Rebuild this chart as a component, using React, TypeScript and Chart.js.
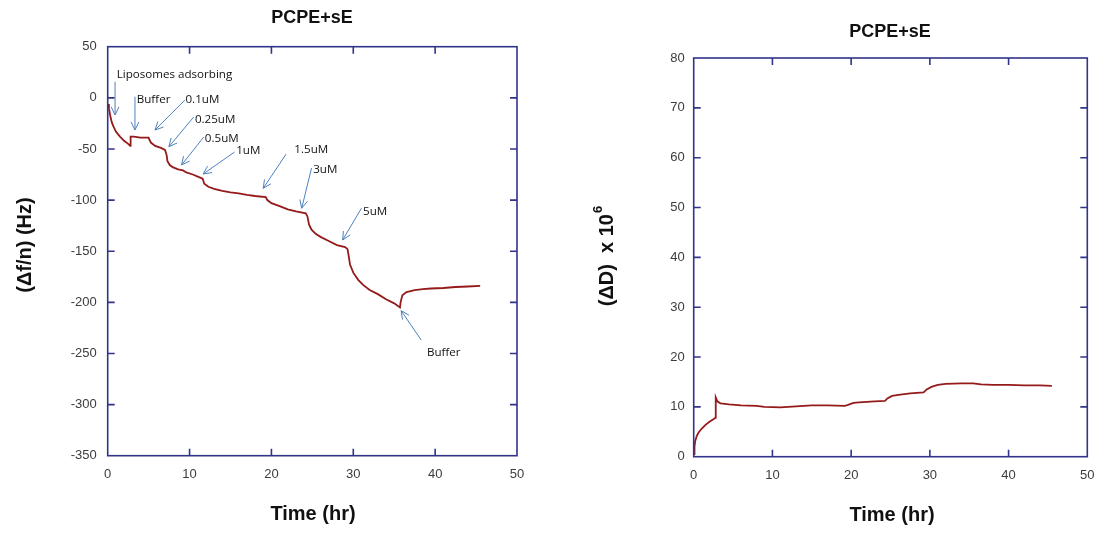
import React, { useEffect, useRef } from "react";
import { Chart, registerables } from "chart.js";

Chart.register(...registerables);

// Frequency shift (Δf/n, Hz) versus time (hr)
const freqTime = [
  0.05, 0.15, 0.3, 0.5, 0.7, 1.0, 1.5, 2.0, 2.5, 2.75, 2.8, 3.2, 4.0, 5.0, 5.1, 5.3, 5.8, 6.5, 7.0,
  7.2, 7.3, 7.6, 8.0, 8.6, 9.2, 9.6, 10.4, 11.0, 11.6, 11.8, 12.3, 13.0, 14.0, 15.0, 16.0, 17.0,
  18.0, 19.3, 19.5, 20.0, 21.0, 22.0, 23.0, 24.2, 24.4, 24.6, 24.9, 25.4, 26.0, 27.0, 28.0, 29.0,
  29.3, 29.45, 29.6, 30.0, 30.6, 31.2, 32.0, 33.0, 34.0, 35.0, 35.7, 35.8, 36.0, 36.5, 37.5, 38.5,
  39.5, 41.0, 42.5, 44.0, 45.5,
];
const freqShift = [
  -6, -10, -17, -24, -28, -33, -38, -42, -45, -47, -38, -38, -39, -39, -41, -44, -47, -49, -51,
  -56, -62, -66, -68, -70, -71, -73, -75, -77, -79, -84, -87, -89, -91, -92.5, -93.5, -95,
  -96, -97, -100, -103, -106, -109, -111, -113, -116, -124, -129, -133, -136, -140, -144, -146,
  -148, -155, -163, -171, -178, -183, -188, -192, -197, -201, -205, -199, -193, -190, -188, -187,
  -186.5, -186, -185, -184.5, -184,
];

// Dissipation shift (ΔD x 10^6) versus time (hr)
const dissTime = [
  0.05, 0.1, 0.2, 0.4, 0.6, 1.0, 1.5, 2.0, 2.5, 2.75, 2.8, 3.0, 3.4, 4.5, 6.0, 8.0, 9.0, 11.0,
  13.0, 15.0, 17.0, 19.2, 19.6, 20.3, 21.0, 23.0, 24.3, 24.6, 25.2, 26.0, 27.5, 29.2, 29.6, 30.2,
  31.0, 32.0, 34.0, 35.5, 36.5, 38.0, 40.0, 42.0, 44.0, 45.5,
];
const dissShift = [
  0.5, 2, 3.2, 4.2, 4.8, 5.6, 6.4, 7.0, 7.5, 7.8, 11.9, 11.1, 10.7, 10.5, 10.3, 10.2, 10.0, 9.9,
  10.1, 10.3, 10.3, 10.2, 10.4, 10.8, 10.9, 11.1, 11.2, 11.7, 12.2, 12.4, 12.7, 12.9, 13.5, 14.0,
  14.4, 14.6, 14.7, 14.7, 14.5, 14.4, 14.4, 14.3, 14.3, 14.2,
];

// Axis ranges and tick steps
const timeRange = [0, 50];
const timeStep = 10;
const freqRange = [-350, 50];
const freqStep = 50;
const dissRange = [0, 80];
const dissStep = 10;

// Injection annotations on the frequency trace (data coordinates)
const noteLabels = ["Liposomes adsorbing", "Buffer", "0.1uM", "0.25uM", "0.5uM", "1uM", "1.5uM", "3uM", "5uM", "Buffer"];
const noteTextX = [1.1, 3.55, 9.5, 10.65, 11.87, 15.7, 22.8, 25.1, 31.2, 39.0];
const noteTextY = [22.3, -2.2, -2.2, -21.7, -40.3, -51.7, -51.0, -70.6, -111.4, -249.3];
const noteTailX = [0.9, 3.33, 9.43, 10.5, 11.74, 15.5, 21.8, 24.9, 31.0, 38.3];
const noteTailY = [15.7, 1.1, -2.2, -18.8, -38.3, -53.0, -55.0, -68.7, -108.0, -236.9];
const noteHeadX = [0.9, 3.33, 5.77, 7.48, 9.02, 11.66, 19.0, 23.7, 28.7, 35.85];
const noteHeadY = [-16.8, -31.5, -31.5, -47.8, -65.7, -74.5, -88.5, -108.0, -139.0, -208.2];

const NAVY = "#30348a";
const TRACE = "#951a1a";
const ARROW = "#4f81bd";
const TICK_TEXT = "#3c3c3c";
const SANS = "'Liberation Sans', Arial, sans-serif";

type PanelSpec = {
  time: number[];
  values: number[];
  yRange: number[];
  yStep: number;
  area: { left: number; top: number; right: number; bottom: number };
  width: number;
  height: number;
  title: { x: number; y: number };
  xTitle: { x: number; y: number };
  yTitle: { x: number; y: number; text: string; sup?: string };
  yLabelPad: number;
  notes: boolean;
};

function drawArrow(ctx: CanvasRenderingContext2D, x1: number, y1: number, x2: number, y2: number) {
  const ang = Math.atan2(y2 - y1, x2 - x1);
  const len = 9;
  const spread = 0.45;
  ctx.beginPath();
  ctx.moveTo(x1, y1);
  ctx.lineTo(x2, y2);
  ctx.moveTo(x2 - len * Math.cos(ang - spread), y2 - len * Math.sin(ang - spread));
  ctx.lineTo(x2, y2);
  ctx.lineTo(x2 - len * Math.cos(ang + spread), y2 - len * Math.sin(ang + spread));
  ctx.stroke();
}

function makeDecor(spec: PanelSpec) {
  return {
    id: "panelDecor",
    afterDraw(chart: any) {
      const { ctx, chartArea: a, scales } = chart;
      ctx.save();

      // plot frame
      ctx.strokeStyle = NAVY;
      ctx.lineWidth = 1.6;
      ctx.strokeRect(a.left, a.top, a.right - a.left, a.bottom - a.top);

      // inward tick marks on all four sides
      const tl = 7;
      ctx.beginPath();
      scales.x.ticks.forEach((t: any) => {
        const px = scales.x.getPixelForValue(t.value);
        if (px <= a.left + 1 || px >= a.right - 1) return;
        ctx.moveTo(px, a.bottom);
        ctx.lineTo(px, a.bottom - tl);
        ctx.moveTo(px, a.top);
        ctx.lineTo(px, a.top + tl);
      });
      scales.y.ticks.forEach((t: any) => {
        const py = scales.y.getPixelForValue(t.value);
        if (py <= a.top + 1 || py >= a.bottom - 1) return;
        ctx.moveTo(a.left, py);
        ctx.lineTo(a.left + tl, py);
        ctx.moveTo(a.right, py);
        ctx.lineTo(a.right - tl, py);
      });
      ctx.stroke();

      // annotations
      if (spec.notes) {
        ctx.strokeStyle = ARROW;
        ctx.lineWidth = 1;
        for (let i = 0; i < noteLabels.length; i++) {
          drawArrow(
            ctx,
            scales.x.getPixelForValue(noteTailX[i]),
            scales.y.getPixelForValue(noteTailY[i]),
            scales.x.getPixelForValue(noteHeadX[i]),
            scales.y.getPixelForValue(noteHeadY[i])
          );
        }
        ctx.fillStyle = "#111111";
        ctx.font = "11.6px 'Open Sans', 'Noto Sans', sans-serif";
        ctx.textAlign = "left";
        ctx.textBaseline = "middle";
        for (let i = 0; i < noteLabels.length; i++) {
          ctx.fillText(
            noteLabels[i],
            scales.x.getPixelForValue(noteTextX[i]),
            scales.y.getPixelForValue(noteTextY[i])
          );
        }
      }

      // titles
      ctx.fillStyle = "#111111";
      ctx.textAlign = "center";
      ctx.textBaseline = "middle";
      ctx.font = `bold 18px ${SANS}`;
      ctx.fillText("PCPE+sE", spec.title.x, spec.title.y);
      ctx.font = `bold 20px ${SANS}`;
      ctx.fillText("Time (hr)", spec.xTitle.x, spec.xTitle.y);

      ctx.save();
      ctx.translate(spec.yTitle.x, spec.yTitle.y);
      ctx.rotate(-Math.PI / 2);
      ctx.font = `bold 20px ${SANS}`;
      const main = spec.yTitle.text;
      const mw = ctx.measureText(main).width;
      let sw = 0;
      if (spec.yTitle.sup) {
        ctx.font = `bold 13px ${SANS}`;
        sw = ctx.measureText(spec.yTitle.sup).width + 1;
      }
      const start = -(mw + sw) / 2;
      ctx.textAlign = "left";
      ctx.font = `bold 20px ${SANS}`;
      ctx.fillText(main, start, 0);
      if (spec.yTitle.sup) {
        ctx.font = `bold 13px ${SANS}`;
        ctx.fillText(spec.yTitle.sup, start + mw + 1, -9);
      }
      ctx.restore();

      ctx.restore();
    },
  };
}

function Panel({ spec }: { spec: PanelSpec }) {
  const ref = useRef<HTMLCanvasElement | null>(null);
  useEffect(() => {
    if (!ref.current) return;
    const a = spec.area;
    const points = spec.time.map((t, i) => ({ x: t, y: spec.values[i] }));
    const chart = new Chart(ref.current, {
      type: "line",
      data: {
        datasets: [
          {
            data: points,
            borderColor: TRACE,
            borderWidth: 1.8,
            pointRadius: 0,
            tension: 0,
            fill: false,
          },
        ],
      },
      options: {
        animation: false,
        responsive: false,
        events: [],
        layout: {
          padding: { left: 0, top: a.top, right: spec.width - a.right, bottom: 0 },
        },
        plugins: { legend: { display: false }, title: { display: false }, tooltip: { enabled: false } },
        scales: {
          x: {
            type: "linear",
            min: timeRange[0],
            max: timeRange[1],
            grid: { display: false, drawTicks: false },
            border: { display: false },
            ticks: {
              stepSize: timeStep,
              padding: 11,
              color: TICK_TEXT,
              font: { family: SANS, size: 13 },
              maxRotation: 0,
            },
            afterFit: (s: any) => {
              s.height = spec.height - a.bottom;
            },
          },
          y: {
            type: "linear",
            min: spec.yRange[0],
            max: spec.yRange[1],
            grid: { display: false, drawTicks: false },
            border: { display: false },
            ticks: {
              stepSize: spec.yStep,
              padding: spec.yLabelPad,
              color: TICK_TEXT,
              font: { family: SANS, size: 13 },
            },
            afterFit: (s: any) => {
              s.width = a.left;
            },
          },
        },
      },
      plugins: [makeDecor(spec)],
    } as any);
    return () => chart.destroy();
  }, [spec]);
  return <canvas ref={ref} width={spec.width} height={spec.height} style={{ display: "block" }} />;
}

const freqPanel: PanelSpec = {
  time: freqTime,
  values: freqShift,
  yRange: freqRange,
  yStep: freqStep,
  area: { left: 107.7, top: 46.7, right: 517, bottom: 455.7 },
  width: 555,
  height: 533,
  title: { x: 312, y: 18 },
  xTitle: { x: 313, y: 514 },
  yTitle: { x: 25, y: 245, text: "(\u0394f/n) (Hz)" },
  yLabelPad: 11,
  notes: true,
};

const dissPanel: PanelSpec = {
  time: dissTime,
  values: dissShift,
  yRange: dissRange,
  yStep: dissStep,
  area: { left: 138.7, top: 58, right: 532.3, bottom: 456.7 },
  width: 555,
  height: 533,
  title: { x: 335, y: 32 },
  xTitle: { x: 337, y: 515 },
  yTitle: { x: 52, y: 256, text: "(\u0394D)  x 10", sup: "6" },
  yLabelPad: 9,
  notes: false,
};

export default function App() {
  return (
    <div style={{ position: "absolute", left: 0, top: 0, width: 1110, height: 533, background: "#ffffff", display: "flex" }}>
      <Panel spec={freqPanel} />
      <Panel spec={dissPanel} />
    </div>
  );
}
